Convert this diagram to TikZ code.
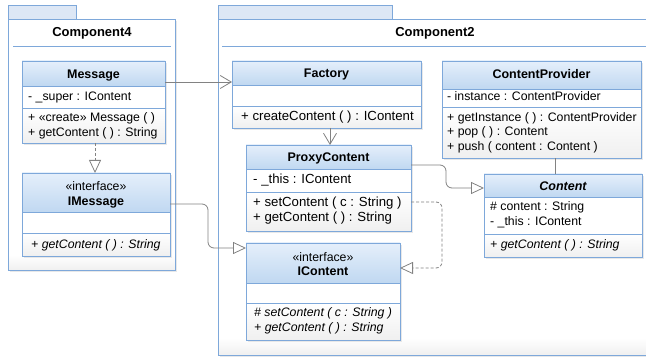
\documentclass[tikz,border=0pt]{standalone}
\usepackage{fontspec}
\setmainfont{Liberation Sans}
\usetikzlibrary{arrows.meta}

\definecolor{bordc}{RGB}{126,168,218}
\definecolor{hdrtop}{RGB}{229,239,251}
\definecolor{hdrbot}{RGB}{192,216,241}
\definecolor{tabc}{RGB}{221,231,245}
\definecolor{linec}{RGB}{130,130,130}

\tikzset{
  cls/.style={draw=bordc, line width=0.9pt, anchor=north west, inner sep=0pt, outer sep=0pt},
  hdr/.style={top color=hdrtop, bottom color=hdrbot},
  foot/.style={top color=white, bottom color=gray!12},
  shad/.style={fill=gray!18},
  div/.style={draw=bordc, line width=0.9pt},
  tabbox/.style={draw=bordc, fill=tabc, line width=0.9pt},
  pkgtitle/.style={font=\fontsize{13}{15}\selectfont\bfseries, inner sep=0pt},
  txt/.style={font=\fontsize{12.3}{14}\selectfont, inner sep=0pt, anchor=base west},
  wtxt/.style={font=\fontsize{13.2}{15}\selectfont, inner sep=0pt, anchor=base west},
  itxt/.style={font=\fontsize{12.3}{14}\selectfont\itshape, inner sep=0pt, anchor=base west},
  clsname/.style={font=\fontsize{12.5}{14}\selectfont\bfseries, inner sep=0pt, anchor=base},
  stereo/.style={font=\fontsize{12.3}{14}\selectfont, inner sep=0pt, anchor=base},
  conn/.style={draw=linec, line width=0.8pt, rounded corners=6pt},
  nav/.style={conn, -{Straight Barb[length=11pt,width=13pt]}},
  gen/.style={conn, -{Triangle[open,length=13pt,width=12pt,fill=white]}},
  realiz/.style={gen, dash pattern=on 3pt off 2pt},
}

\begin{document}
\begin{tikzpicture}[x=1pt, y=-1pt]
\useasboundingbox (0,0) rectangle (646,358);
\clip (0,0) rectangle (646,358);

% package Component4
\fill[shad] (10,21) rectangle (177,272);
\draw[tabbox] (8,5) rectangle (76,19);
\fill[white] (8,19) rectangle (175,270);
\fill[foot] (8,255) rectangle (175,270);
\node[cls, minimum width=167pt, minimum height=251pt] (comp4) at (8,19) {};
\node[pkgtitle] (comp4title) at (92,33) {Component4};
\draw[div] (13,46) -- (171,46);

% package Component2
\fill[shad] (220,21) rectangle (662,357);
\draw[tabbox] (218,5) rectangle (392,19);
\fill[white] (218,19) rectangle (660,355);
\fill[foot] (218,338) rectangle (660,355);
\node[cls, minimum width=442pt, minimum height=336pt] (comp2) at (218,19) {};
\node[pkgtitle] (comp2title) at (435,33) {Component2};
\draw[div] (222,46) -- (660,46);

% Message
\fill[shad] (24,63) rectangle (167,145);
\fill[white] (22,61) rectangle (165,143);
\fill[hdr] (22,61) rectangle (165,86);
\fill[foot] (22,108) rectangle (165,143);
\node[cls, minimum width=143pt, minimum height=82pt] (message) at (22,61) {};
\draw[div] (22,86) -- (165,86) (22,108) -- (165,108);
\node[clsname] (msgname) at (93.5,78.5) {Message};
\node[txt] (msgattr) at (28,101) {- \_super : IContent};
\node[txt] (msgop1) at (28,122) {+ «create» Message ( )};
\node[txt] (msgop2) at (28,137) {+ getContent ( ) : String};

% IMessage
\fill[shad] (24,175) rectangle (172,258);
\fill[white] (22,173) rectangle (170,256);
\fill[hdr] (22,173) rectangle (170,212);
\fill[foot] (22,233) rectangle (170,256);
\node[cls, minimum width=148pt, minimum height=83pt] (imessage) at (22,173) {};
\draw[div] (22,212) -- (170,212) (22,233) -- (170,233);
\node[stereo] (imsgst) at (96,191) {«interface»};
\node[clsname] (imsgname) at (96,206) {IMessage};
\node[itxt] (imsgop) at (31,249) {+ getContent ( ) : String};

% Factory
\fill[shad] (234,63) rectangle (423,130);
\fill[white] (232,61) rectangle (421,128);
\fill[hdr] (232,61) rectangle (421,85);
\fill[foot] (232,106) rectangle (421,128);
\node[cls, minimum width=189pt, minimum height=67pt] (factory) at (232,61) {};
\draw[div] (232,85) -- (421,85) (232,106) -- (421,106);
\node[clsname] (facname) at (326.5,78) {Factory};
\node[wtxt] (facop) at (241,121) {+ createContent ( ) : IContent};

% ProxyContent
\fill[shad] (248,147) rectangle (413,233);
\fill[white] (246,145) rectangle (411,231);
\fill[hdr] (246,145) rectangle (411,169);
\fill[foot] (246,192) rectangle (411,231);
\node[cls, minimum width=165pt, minimum height=86pt] (proxy) at (246,145) {};
\draw[div] (246,169) -- (411,169) (246,192) -- (411,192);
\node[clsname] (proxyname) at (328.5,162) {ProxyContent};
\node[wtxt] (proxyattr) at (253,184) {- \_this : IContent};
\node[wtxt] (proxyop1) at (253,207) {+ setContent ( c : String )};
\node[wtxt] (proxyop2) at (253,222) {+ getContent ( ) : String};

% ContentProvider
\fill[shad] (444,63) rectangle (643,160);
\fill[white] (442,61) rectangle (641,158);
\fill[hdr] (442,61) rectangle (641,89);
\fill[foot] (442,107) rectangle (641,158);
\node[cls, minimum width=199pt, minimum height=97pt] (provider) at (442,61) {};
\draw[div] (442,89) -- (641,89) (442,107) -- (641,107);
\node[clsname] (provname) at (541.5,79) {ContentProvider};
\node[txt] (provattr) at (447,101) {- instance : ContentProvider};
\node[txt] (provop1) at (447,122) {+ getInstance ( ) : ContentProvider};
\node[txt] (provop2) at (447,136) {+ pop ( ) : Content};
\node[txt] (provop3) at (447,151) {+ push ( content : Content )};

% Content
\fill[shad] (486,176) rectangle (644,259);
\fill[white] (484,174) rectangle (642,257);
\fill[hdr] (484,174) rectangle (642,197);
\fill[foot] (484,234) rectangle (642,257);
\node[cls, minimum width=158pt, minimum height=83pt] (content) at (484,174) {};
\draw[div] (484,197) -- (642,197) (484,234) -- (642,234);
\node[clsname, font=\fontsize{12.5}{14}\selectfont\bfseries\itshape] (contname) at (563,191) {Content};
\node[txt] (contattr1) at (490,211) {\# content : String};
\node[txt] (contattr2) at (490,226) {- \_this : IContent};
\node[itxt] (contop) at (490,249) {+ getContent ( ) : String};

% IContent
\fill[shad] (248,245) rectangle (402,342);
\fill[white] (246,243) rectangle (400,340);
\fill[hdr] (246,243) rectangle (400,283);
\fill[foot] (246,303) rectangle (400,340);
\node[cls, minimum width=154pt, minimum height=97pt] (icontent) at (246,243) {};
\draw[div] (246,283) -- (400,283) (246,303) -- (400,303);
\node[stereo] (icontst) at (323,262) {«interface»};
\node[clsname] (icontname) at (323,276) {IContent};
\node[itxt] (icontop1) at (254,317) {\# setContent ( c : String )};
\node[itxt] (icontop2) at (254,332) {+ getContent ( ) : String};

% connectors
\draw[nav] (message.east |- 0,82) -- (factory.west |- 0,82);
\draw[nav] (factory.south -| 330,0) -- (proxy.north -| 330,0);
\draw[realiz] (message.south -| 95,0) -- (imessage.north -| 95,0);
\draw[gen] (imessage.east |- 0,204) -- (208,204) -- (208,248) -- (icontent.west |- 0,248);
\draw[conn] (provider.south -| 555,0) -- (content.north -| 555,0);
\draw[gen] (proxy.east |- 0,165) -- (446,165) -- (446,188) -- (content.west |- 0,188);
\draw[realiz] (proxy.east |- 0,202) -- (442,202) -- (442,268) -- (icontent.east |- 0,268);
\end{tikzpicture}
\end{document}
